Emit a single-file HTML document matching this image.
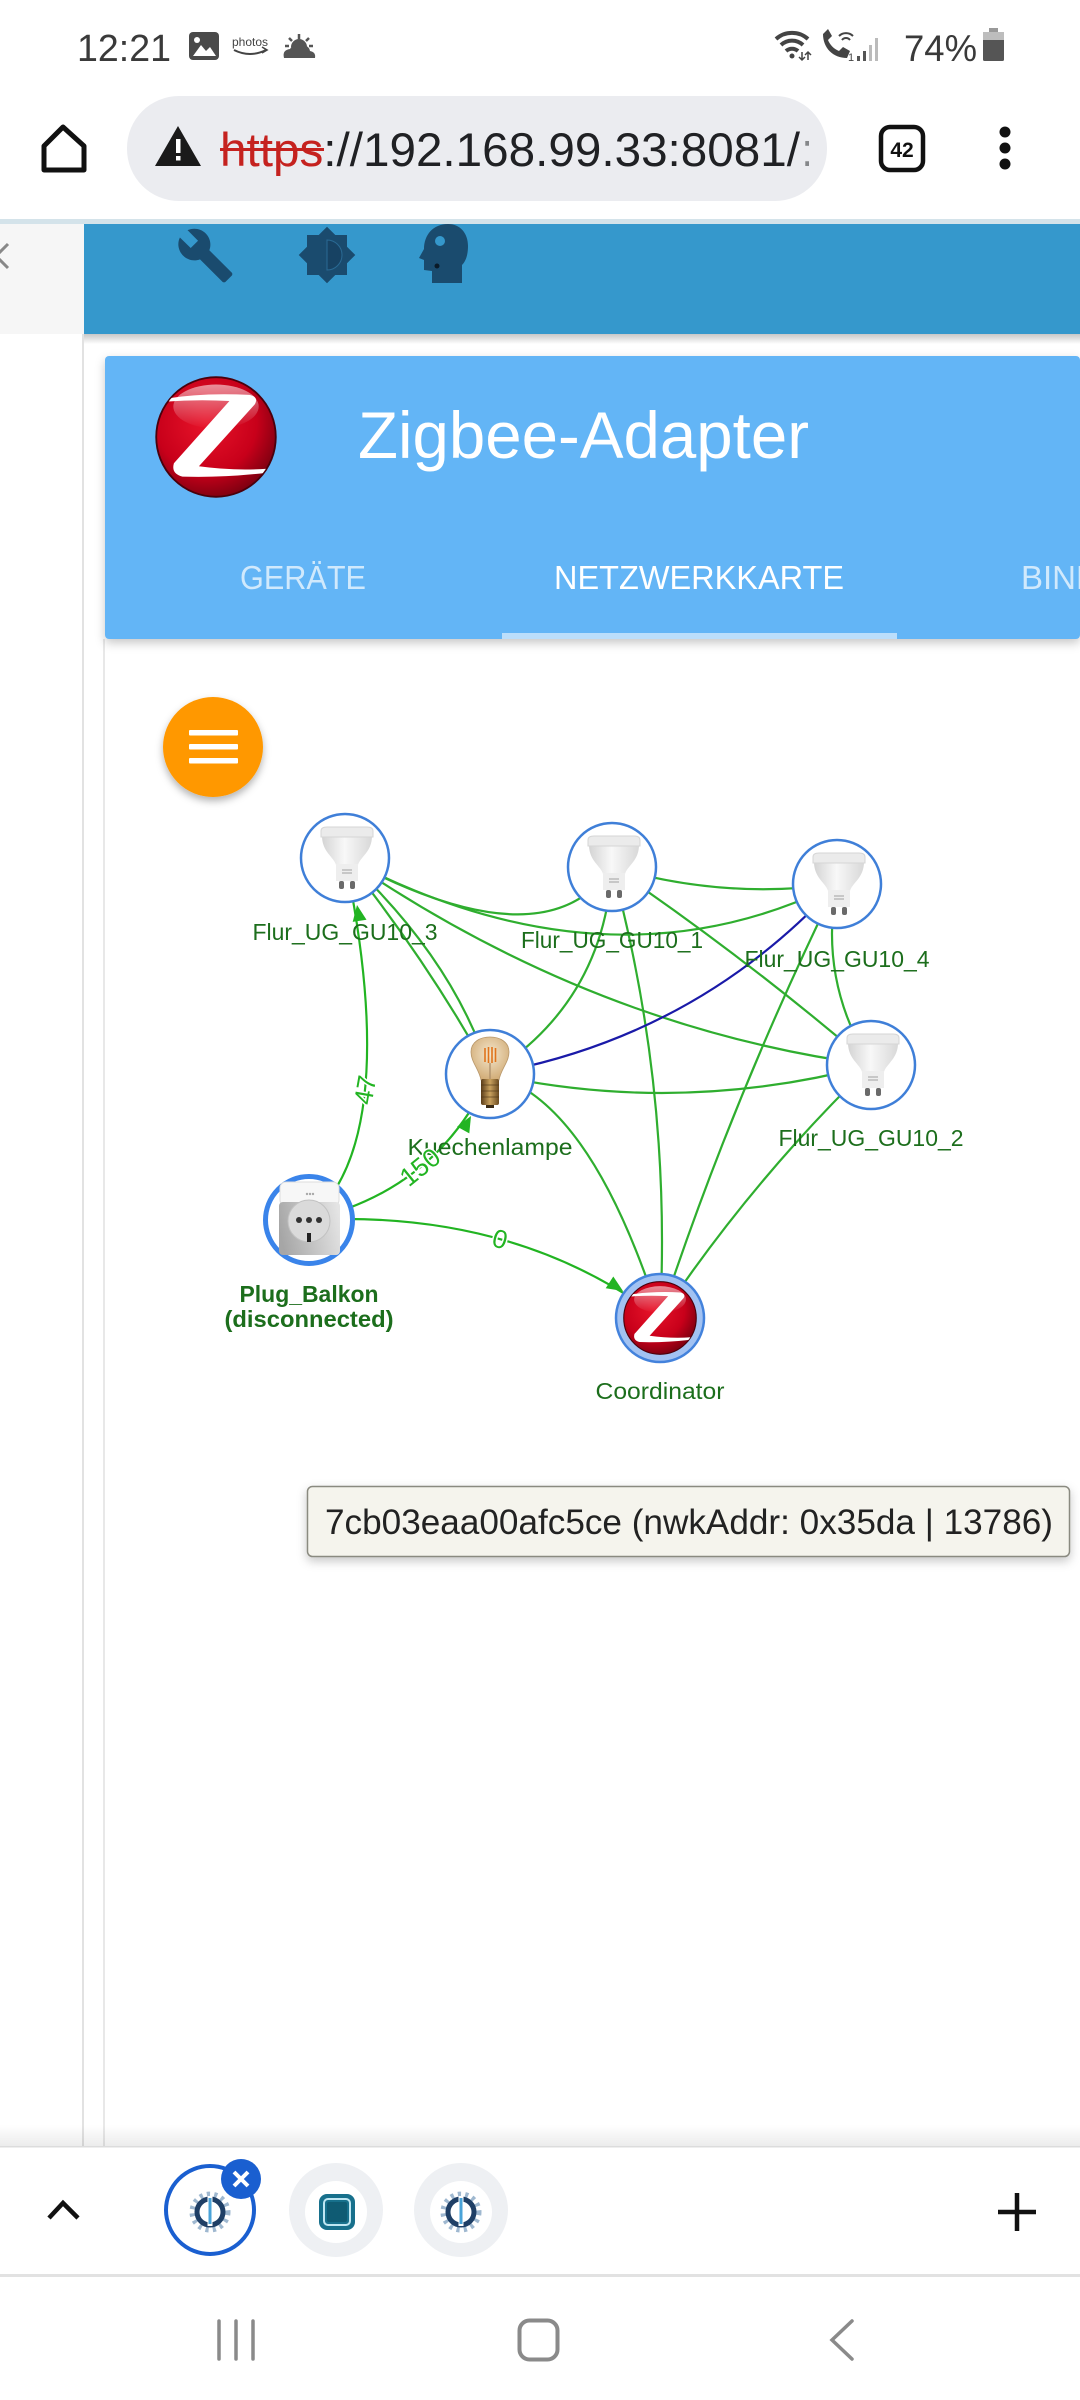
<!DOCTYPE html>
<html><head><meta charset="utf-8">
<style>
html,body{margin:0;padding:0;background:#fff;}
body{width:1080px;height:2400px;overflow:hidden;}
svg{display:block;}
text{font-family:"Liberation Sans",Arial,sans-serif;}
</style></head><body>
<svg width="1080" height="2400" viewBox="0 0 1080 2400" xmlns="http://www.w3.org/2000/svg" xmlns:xlink="http://www.w3.org/1999/xlink">
<defs>
 <radialGradient id="zr" cx="0.42" cy="0.38" r="0.7">
  <stop offset="0" stop-color="#e8142a"/>
  <stop offset="0.6" stop-color="#c8001a"/>
  <stop offset="1" stop-color="#6a000e"/>
 </radialGradient>
 <linearGradient id="zhl" x1="0" y1="0" x2="0" y2="1">
  <stop offset="0" stop-color="#fff" stop-opacity="0.55"/>
  <stop offset="1" stop-color="#fff" stop-opacity="0"/>
 </linearGradient>
 <clipPath id="zc"><circle cx="0" cy="0" r="0.97"/></clipPath>
 <symbol id="zlogo" viewBox="-1 -1 2 2">
  <circle r="0.98" fill="url(#zr)" stroke="#4a000c" stroke-width="0.03"/>
  <ellipse cx="0" cy="-0.5" rx="0.7" ry="0.36" fill="url(#zhl)"/>
  <g clip-path="url(#zc)">
   <path d="M-0.82,-0.63 Q-0.2,-0.73 0.55,-0.69 Q0.7,-0.66 0.64,-0.54 L-0.28,0.48 Q0.3,0.56 0.84,0.52 L0.8,0.59 Q0.1,0.67 -0.55,0.65 Q-0.74,0.6 -0.69,0.43 L0.22,-0.59 Q-0.3,-0.62 -0.82,-0.58 Z" fill="#fff"/>
  </g>
 </symbol>
 <linearGradient id="gug" x1="0" y1="0" x2="1" y2="0">
  <stop offset="0" stop-color="#d4d4d4"/><stop offset="0.45" stop-color="#f8f8f8"/><stop offset="1" stop-color="#d8d8d8"/>
 </linearGradient>
 <g id="gu10">
  <path d="M-24,-22 L26,-22 C26,-6 14,-1 12,7 L-10,7 C-12,-1 -24,-6 -24,-22 Z" fill="url(#gug)"/>
  <path d="M-25,-27 Q-25,-31 -19,-31 L21,-31 Q27,-31 27,-27 L27,-21 L-25,-21 Z" fill="#ebebeb" stroke="#d6d6d6" stroke-width="1"/>
  <rect x="-10" y="6" width="22" height="17" fill="#eeeeee"/>
  <path d="M-4,12 h10 M-4,15 h10" stroke="#a0a0a0" stroke-width="1"/>
  <rect x="-7" y="23" width="5" height="8" rx="2" fill="#6a6a6a"/>
  <rect x="4" y="23" width="5" height="8" rx="2" fill="#6a6a6a"/>
 </g>
 <radialGradient id="glass" cx="0.5" cy="0.4" r="0.6">
  <stop offset="0" stop-color="#f4e6cc"/><stop offset="1" stop-color="#d2ad78"/>
 </radialGradient>
 <linearGradient id="brass" x1="0" y1="0" x2="1" y2="0">
  <stop offset="0" stop-color="#5a3c18"/><stop offset="0.5" stop-color="#c9a15e"/><stop offset="1" stop-color="#6a4a20"/>
 </linearGradient>
 <g id="filbulb">
  <path d="M-9,6 C-11,-5 -19,-12 -19,-22 C-19,-32 -10,-37 0,-37 C10,-37 19,-32 19,-22 C19,-12 11,-5 9,6 Z" fill="url(#glass)" stroke="#b8976a" stroke-width="0.8"/>
  <path d="M-5,-26 L-5,-12 M-1.5,-27 L-1.5,-11 M2,-27 L2,-11 M5.5,-26 L5.5,-12" stroke="#e0741c" stroke-width="1.6"/>
  <path d="M0,-11 L0,5" stroke="#a88a66" stroke-width="1.2"/>
  <rect x="-9" y="5" width="18" height="26" rx="2" fill="url(#brass)"/>
  <path d="M-9,11 h18 M-9,17 h18 M-9,23 h18" stroke="#4a3214" stroke-width="1" opacity="0.6"/>
  <rect x="-4" y="31" width="8" height="3" fill="#3a2a15"/>
 </g>
 <linearGradient id="plugg" x1="0" y1="0.5" x2="1" y2="0.3">
  <stop offset="0" stop-color="#a6a6a6"/><stop offset="1" stop-color="#e4e4e4"/>
 </linearGradient>
 <g id="plug">
  <rect x="-29" y="-38" width="59" height="24" rx="6" fill="#f7f7f7" stroke="#dddddd"/>
  <circle cx="-2" cy="-26" r="1.2" fill="#aaa"/><circle cx="1" cy="-26" r="1.2" fill="#aaa"/><circle cx="4" cy="-26" r="1.2" fill="#aaa"/>
  <rect x="-30" y="-18" width="61" height="53" rx="4" fill="url(#plugg)"/>
  <circle cx="0" cy="1" r="21" fill="#dadada" stroke="#c2c2c2"/>
  <circle cx="-10" cy="0" r="3" fill="#333"/><circle cx="0" cy="0" r="3" fill="#333"/><circle cx="10" cy="0" r="3" fill="#333"/>
  <rect x="-2" y="13" width="4" height="9" fill="#222"/>
 </g>
 <filter id="sh" x="-30%" y="-30%" width="160%" height="170%">
  <feDropShadow dx="0" dy="4" stdDeviation="4" flood-color="#000" flood-opacity="0.3"/>
 </filter>
 <filter id="sh2" x="-10%" y="-30%" width="120%" height="170%">
  <feDropShadow dx="0" dy="4" stdDeviation="5" flood-color="#000" flood-opacity="0.22"/>
 </filter>
 <linearGradient id="dn" x1="0" y1="0" x2="0" y2="1">
  <stop offset="0" stop-color="#000" stop-opacity="0.22"/><stop offset="1" stop-color="#000" stop-opacity="0"/>
 </linearGradient>
 <linearGradient id="up" x1="0" y1="0" x2="0" y2="1">
  <stop offset="0" stop-color="#000" stop-opacity="0"/><stop offset="1" stop-color="#000" stop-opacity="0.08"/>
 </linearGradient>
 <clipPath id="urlclip"><rect x="127" y="96" width="682" height="105"/></clipPath>
</defs>

<!-- ===== status bar ===== -->
<text x="77" y="61" font-size="38" fill="#3a3a3a" textLength="94" lengthAdjust="spacingAndGlyphs">12:21</text>
<rect x="189" y="32" width="30" height="28" rx="4" fill="#4a4a4a"/>
<path d="M193,56 L201,45 L206,51 L210,47 L216,56 Z" fill="#fff"/>
<circle cx="197" cy="40" r="3" fill="#fff"/>
<text x="232" y="46" font-size="12" fill="#444">photos</text>
<path d="M234,50 Q250,58 266,50" stroke="#444" stroke-width="2" fill="none"/>
<path d="M262,47 L267,50 L262,53" stroke="#444" stroke-width="1.6" fill="none"/>
<path d="M299,34 v5 M289,38 l3,3 M309,38 l-3,3 M285,46 h4 M313,46 h-4" stroke="#555" stroke-width="2.5"/>
<path d="M291,47 a8,8 0 0 1 16,0 Z" fill="#555"/>
<path d="M284,58 Q282,50 290,49 Q293,43 301,45 Q309,45 310,51 Q316,52 315,58 Z" fill="#555"/>
<!-- right status -->
<path d="M776,39 A24,24 0 0 1 808,39" stroke="#444" stroke-width="4" fill="none"/>
<path d="M781,45 A16,16 0 0 1 803,45" stroke="#444" stroke-width="4" fill="none"/>
<path d="M786,51 A9,9 0 0 1 798,51" stroke="#444" stroke-width="4" fill="none"/>
<circle cx="792" cy="56" r="2.5" fill="#444"/>
<path d="M802,52 v8 M799,57 l3,3 3,-3 M808,60 v-8 M805,55 l3,-3 3,3" stroke="#444" stroke-width="1.5" fill="none"/>
<path d="M823,34 c0,14 10,24 24,24 l3,-7 -7,-4 -4,4 c-5,-2 -9,-6 -11,-11 l4,-4 -4,-7 z" fill="#444"/>
<path d="M839,36 a10,10 0 0 1 14,0 M842,40 a5,5 0 0 1 8,0" stroke="#444" stroke-width="2" fill="none"/>
<text x="848" y="61" font-size="11" fill="#444">1</text>
<rect x="857" y="56" width="3" height="5" fill="#555"/>
<rect x="863" y="51" width="3" height="10" fill="#555"/>
<rect x="869" y="45" width="3" height="16" fill="#bbb"/>
<rect x="875" y="38" width="3" height="23" fill="#bbb"/>
<text x="904" y="61" font-size="37" fill="#3a3a3a" textLength="73" lengthAdjust="spacingAndGlyphs">74%</text>
<rect x="989" y="28" width="9" height="4" fill="#999"/>
<rect x="983" y="32" width="21" height="29" rx="1.5" fill="#555"/>
<rect x="983" y="32" width="21" height="8" fill="#bdbdbd"/>

<!-- ===== URL bar ===== -->
<path d="M44,146 L63,127 L84,146 L84,170 L44,170 Z" stroke="#111" stroke-width="5" fill="none" stroke-linejoin="round"/>
<rect x="127" y="96" width="700" height="105" rx="52" fill="#ebecf0"/>
<path d="M178,126 L201,166 L155,166 Z" fill="#1a1a1a"/>
<rect x="176" y="139" width="4.5" height="14" fill="#fff"/>
<rect x="176" y="156" width="4.5" height="4.5" fill="#fff"/>
<g clip-path="url(#urlclip)">
<text x="220" y="166" font-size="47" fill="#202124" textLength="580" lengthAdjust="spacingAndGlyphs"><tspan fill="#c5221f">https</tspan>://192.168.99.33:8081/</text>
<text x="801" y="166" font-size="47" fill="#202124" fill-opacity="0.5">:</text>
</g>
<rect x="220" y="148" width="104" height="3" fill="#c5221f"/>
<rect x="881" y="127" width="42" height="43" rx="9" fill="none" stroke="#111" stroke-width="4.5"/>
<text x="902" y="157" font-size="21" font-weight="bold" fill="#111" text-anchor="middle">42</text>
<circle cx="1005" cy="132" r="5.5" fill="#111"/>
<circle cx="1005" cy="148" r="5.5" fill="#111"/>
<circle cx="1005" cy="164" r="5.5" fill="#111"/>

<!-- ===== toolbar ===== -->
<rect x="0" y="219" width="1080" height="5" fill="#d4e3ea"/>
<rect x="0" y="224" width="84" height="110" fill="#f6f6f6"/>
<path d="M8,244 L-4,256 L8,268" stroke="#888" stroke-width="3" fill="none"/>
<rect x="84" y="224" width="996" height="110" fill="#3598cc"/>
<rect x="84" y="334" width="996" height="10" fill="url(#dn)"/>
<g fill="#1a4b6e">
 <path transform="translate(176,226) scale(2.45)" d="M22.7 19l-9.1-9.1c.9-2.3.4-5-1.5-6.9-2-2-5-2.4-7.4-1.3L9 6 6 9 1.6 4.7C.4 7.1.9 10.1 2.9 12.1c1.9 1.9 4.6 2.4 6.9 1.5l9.1 9.1c.4.4 1 .4 1.4 0l2.3-2.3c.5-.4.5-1.1.1-1.4z"/>
 <path transform="translate(297,225) scale(2.5)" d="M20 15.31L23.31 12 20 8.69V4h-4.69L12 .69 8.69 4H4v4.69L.69 12 4 15.31V20h4.69L12 23.31 15.31 20H20v-4.69z"/>
 <path d="M448,224 C433,224 424,235 424,249 L419,258 L424,260 L424,270 L432,271 L432,283 L462,283 L462,265 C467,260 468,252 468,246 C468,233 460,224 448,224 Z"/>
</g>
<path transform="translate(297,225) scale(2.5)" d="M12 18V6c3.31 0 6 2.69 6 6s-2.69 6-6 6z" fill="#174263" stroke="#2a6a94" stroke-width="0.4"/>
<circle cx="440" cy="241" r="5" fill="#3598cc"/>
<circle cx="437" cy="266" r="2.5" fill="#0a1a28"/>

<!-- left rails -->
<rect x="82" y="334" width="2" height="1813" fill="#e2e2e2"/>
<rect x="103" y="639" width="2" height="1508" fill="#e8e8e8"/>

<!-- ===== card header ===== -->
<rect x="105" y="356" width="975" height="283" rx="4" fill="#64b5f6" filter="url(#sh2)"/>
<use xlink:href="#zlogo" href="#zlogo" x="155" y="376" width="122" height="122"/>
<text x="358" y="458" font-size="66" fill="#fff" textLength="451" lengthAdjust="spacingAndGlyphs">Zigbee-Adapter</text>
<text x="303" y="589" font-size="33" fill="#fff" fill-opacity="0.7" text-anchor="middle" textLength="126" lengthAdjust="spacingAndGlyphs">GERÄTE</text>
<text x="699" y="589" font-size="33" fill="#fff" text-anchor="middle" textLength="290" lengthAdjust="spacingAndGlyphs">NETZWERKKARTE</text>
<text x="1021" y="589" font-size="33" fill="#fff" fill-opacity="0.7">BINDINGS</text>
<rect x="502" y="633" width="395" height="6" fill="#bbdefb"/>

<!-- FAB -->
<circle cx="213" cy="747" r="50" fill="#ff9800" filter="url(#sh)"/>
<rect x="189" y="730" width="49" height="5.5" rx="1" fill="#fff"/>
<rect x="189" y="744" width="49" height="5.5" rx="1" fill="#fff"/>
<rect x="189" y="758" width="49" height="5.5" rx="1" fill="#fff"/>

<!-- ===== edges ===== -->
<g fill="none" stroke="#2fae2f" stroke-width="2.2">
 <path d="M345,858 Q545,966 612,867"/>
 <path d="M345,858 Q609,997 837,884"/>
 <path d="M612,867 Q724,900 837,884"/>
 <path d="M345,858 Q427,960 490,1074"/>
 <path d="M345,858 Q455,960 490,1074"/>
 <path d="M345,858 Q592,1028 871,1065"/>
 <path d="M612,867 Q604,1002 490,1074"/>
 <path d="M612,867 Q672,1088 660,1318"/>
 <path d="M612,867 Q746,958 871,1065"/>
 <path d="M837,884 Q818,980 871,1065"/>
 <path d="M837,884 Q731,1101 660,1318"/>
 <path d="M490,1074 Q680,1116 871,1065"/>
 <path d="M490,1074 Q590,1098 660,1318"/>
 <path d="M871,1065 Q752,1180 660,1318"/>
 <path d="M309,1220 Q403,1141 345,858" stroke="#22b422"/>
 <path d="M309,1220 Q438,1190 490,1074" stroke="#22b422"/>
 <path d="M309,1220 Q515,1209 660,1318" stroke="#22b422"/>
</g>
<path d="M490,1074 Q697,1037 837,884" fill="none" stroke="#1a1aa8" stroke-width="2.2"/>

<!-- ===== nodes ===== -->
<g stroke="#3f7fd8" stroke-width="2.5" fill="#fff">
 <circle cx="345" cy="858" r="44"/>
 <circle cx="612" cy="867" r="44"/>
 <circle cx="837" cy="884" r="44"/>
 <circle cx="490" cy="1074" r="44"/>
 <circle cx="871" cy="1065" r="44"/>
</g>
<circle cx="309" cy="1220" r="43.5" fill="#fff" stroke="#3a84ea" stroke-width="5"/>
<circle cx="660" cy="1318" r="44" fill="#a2c2f2" stroke="#4382dc" stroke-width="2.5"/>
<use xlink:href="#gu10" href="#gu10" x="346" y="858"/>
<use xlink:href="#gu10" href="#gu10" x="613" y="867"/>
<use xlink:href="#gu10" href="#gu10" x="838" y="884"/>
<use xlink:href="#gu10" href="#gu10" x="872" y="1065"/>
<use xlink:href="#filbulb" href="#filbulb" x="490" y="1074"/>
<use xlink:href="#plug" href="#plug" x="309" y="1220"/>
<use xlink:href="#zlogo" href="#zlogo" x="623" y="1281" width="74" height="74"/>

<!-- arrowheads -->
<g fill="#22b422">
 <polygon points="357,905 366.5,919.7 352.7,921.9"/>
 <polygon points="471,1116 469.3,1133.4 457.1,1126.6"/>
 <polygon points="623,1291 605.7,1288.3 613.3,1276.5"/>
</g>

<!-- node labels -->
<g font-size="23" fill="#1c6e1c" text-anchor="middle">
 <text x="345" y="940" textLength="185" lengthAdjust="spacingAndGlyphs">Flur_UG_GU10_3</text>
 <text x="612" y="948" textLength="182" lengthAdjust="spacingAndGlyphs">Flur_UG_GU10_1</text>
 <text x="837" y="967" textLength="185" lengthAdjust="spacingAndGlyphs">Flur_UG_GU10_4</text>
 <text x="490" y="1155" textLength="165" lengthAdjust="spacingAndGlyphs">Kuechenlampe</text>
 <text x="871" y="1146" textLength="185" lengthAdjust="spacingAndGlyphs">Flur_UG_GU10_2</text>
 <text x="309" y="1302" font-weight="bold" textLength="139" lengthAdjust="spacingAndGlyphs">Plug_Balkon</text>
 <text x="309" y="1327" font-weight="bold" textLength="169" lengthAdjust="spacingAndGlyphs">(disconnected)</text>
 <text x="660" y="1399" textLength="129" lengthAdjust="spacingAndGlyphs">Coordinator</text>
</g>

<!-- edge labels -->
<g font-size="26" fill="#22b422" stroke="#fff" stroke-width="3" paint-order="stroke" text-anchor="middle">
 <text x="0" y="9" transform="translate(365,1090) rotate(-80)">47</text>
 <text x="0" y="9" transform="translate(420,1167) rotate(-39)">150</text>
 <text x="0" y="9" transform="translate(500,1239) rotate(15.6)">0</text>
</g>

<!-- tooltip -->
<rect x="307.5" y="1486.5" width="762" height="70" rx="5" fill="#f5f4ed" stroke="#8a8a80" stroke-width="1.5" filter="url(#sh2)"/>
<text x="325" y="1534" font-size="35" fill="#222" textLength="728" lengthAdjust="spacingAndGlyphs">7cb03eaa00afc5ce (nwkAddr: 0x35da | 13786)</text>

<!-- ===== bottom browser toolbar ===== -->
<rect x="0" y="2125" width="1080" height="22" fill="url(#up)"/>
<rect x="0" y="2146" width="1080" height="1.5" fill="#dcdcdc"/>
<rect x="0" y="2147.5" width="1080" height="126.5" fill="#fff"/>
<path d="M49,2218 L63,2203 L78,2218" stroke="#111" stroke-width="4.5" fill="none"/>
<circle cx="210" cy="2210" r="44" fill="#fff" stroke="#1a5fd0" stroke-width="4"/>
<circle cx="210" cy="2212" r="17" fill="none" stroke="#9fb8d0" stroke-width="7" stroke-dasharray="3 4"/>
<circle cx="210" cy="2212" r="13" fill="none" stroke="#1f3f66" stroke-width="5"/>
<rect x="207.5" y="2196" width="5" height="30" fill="#fff"/>
<rect x="208.5" y="2198" width="3" height="26" fill="#4aa3d8"/>
<circle cx="241" cy="2179" r="20" fill="#1a5fd0"/>
<path d="M234,2172 L248,2186 M248,2172 L234,2186" stroke="#fff" stroke-width="4"/>
<circle cx="336" cy="2210" r="47" fill="#eef0f3"/>
<circle cx="336" cy="2212" r="31" fill="#fff"/>
<rect x="319" y="2194" width="36" height="36" rx="8" fill="#17708c"/>
<rect x="324" y="2199" width="26" height="26" rx="4" fill="none" stroke="#bfe6f2" stroke-width="2"/>
<rect x="327" y="2202" width="20" height="20" rx="2" fill="#0f5b73"/>
<circle cx="461" cy="2210" r="47" fill="#eef0f3"/>
<circle cx="461" cy="2212" r="31" fill="#fff"/>
<circle cx="461" cy="2212" r="17" fill="none" stroke="#9fb8d0" stroke-width="7" stroke-dasharray="3 4"/>
<circle cx="461" cy="2212" r="13" fill="none" stroke="#1f3f66" stroke-width="5"/>
<rect x="458.5" y="2196" width="5" height="30" fill="#fff"/>
<rect x="459.5" y="2198" width="3" height="26" fill="#4aa3d8"/>
<path d="M1017,2193 V2231 M998,2212 H1036" stroke="#111" stroke-width="4.5"/>
<rect x="0" y="2274" width="1080" height="3" fill="#e2e2e2"/>
<!-- nav bar -->
<path d="M219,2321 V2359 M236,2321 V2359 M253,2321 V2359" stroke="#8a8a8a" stroke-width="3.5" stroke-linecap="round"/>
<rect x="519.5" y="2320.5" width="38" height="39" rx="10" fill="none" stroke="#8a8a8a" stroke-width="4"/>
<path d="M852,2321 L832,2340 L852,2359" stroke="#8a8a8a" stroke-width="3.5" fill="none" stroke-linecap="round"/>
</svg>
</body></html>
